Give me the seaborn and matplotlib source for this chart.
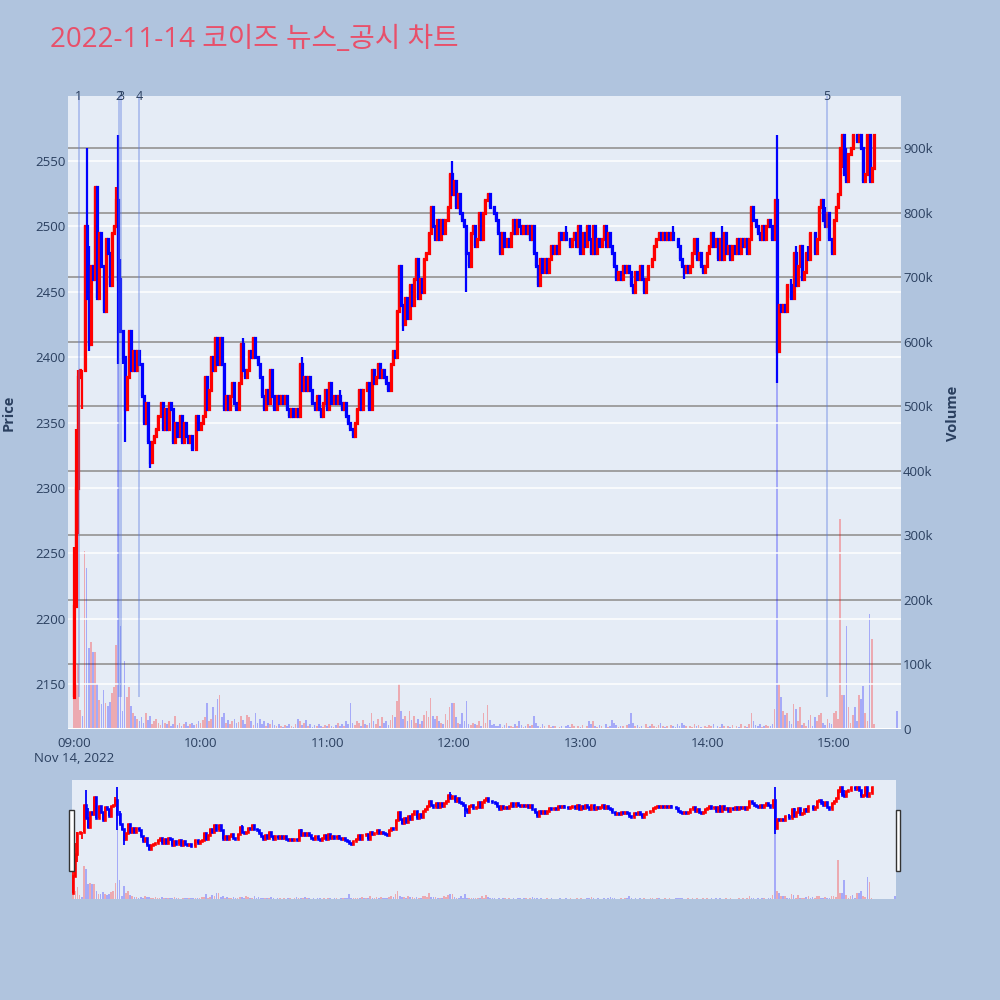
# 1-minute candles + volume for 2022-11-14, plotly-like look
import numpy as np
import pandas as pd
import seaborn as sns
import matplotlib.pyplot as plt
from matplotlib.patches import Rectangle
from matplotlib.ticker import FuncFormatter

# ---------------- data ----------------
title = '2022-11-14 코이즈 뉴스_공시 차트'
first_open = 2140

# close of each minute 09:00 .. 15:19, then the 15:30 closing auction
closes = [
    2210, 2300, 2385, 2390, 2390, 2500, 2445, 2410, 2470, 2460,
    2530, 2445, 2495, 2470, 2435, 2490, 2480, 2455, 2495, 2500,
    2520, 2460, 2420, 2400, 2360, 2385, 2420, 2390, 2405, 2390,
    2405, 2395, 2370, 2350, 2365, 2335, 2320, 2335, 2340, 2345,
    2355, 2365, 2345, 2360, 2345, 2365, 2360, 2335, 2350, 2340,
    2355, 2335, 2350, 2340, 2335, 2340, 2330, 2330, 2355, 2345,
    2350, 2355, 2385, 2360, 2375, 2400, 2390, 2415, 2395, 2415,
    2395, 2360, 2370, 2360, 2370, 2380, 2365, 2360, 2380, 2410,
    2390, 2385, 2390, 2405, 2400, 2415, 2400, 2395, 2385, 2370,
    2360, 2375, 2365, 2390, 2370, 2360, 2370, 2365, 2370, 2365,
    2370, 2360, 2355, 2360, 2355, 2360, 2355, 2395, 2375, 2385,
    2375, 2385, 2375, 2365, 2360, 2370, 2360, 2355, 2365, 2375,
    2360, 2380, 2365, 2370, 2365, 2370, 2365, 2360, 2365, 2355,
    2350, 2345, 2340, 2350, 2360, 2375, 2360, 2375, 2375, 2380,
    2360, 2390, 2380, 2385, 2395, 2385, 2390, 2385, 2380, 2375,
    2395, 2405, 2400, 2435, 2470, 2440, 2425, 2445, 2430, 2455,
    2440, 2460, 2475, 2445, 2460, 2450, 2475, 2480, 2495, 2515,
    2500, 2490, 2505, 2490, 2505, 2495, 2505, 2515, 2540, 2525,
    2535, 2515, 2525, 2510, 2505, 2500, 2480, 2470, 2495, 2500,
    2485, 2490, 2510, 2490, 2510, 2520, 2525, 2515, 2515, 2510,
    2505, 2495, 2480, 2495, 2485, 2490, 2485, 2495, 2505, 2495,
    2505, 2500, 2495, 2500, 2495, 2500, 2490, 2500, 2480, 2470,
    2455, 2475, 2465, 2475, 2465, 2475, 2485, 2480, 2485, 2480,
    2495, 2490, 2495, 2490, 2490, 2485, 2490, 2495, 2485, 2500,
    2480, 2495, 2485, 2500, 2490, 2480, 2500, 2480, 2490, 2485,
    2490, 2500, 2485, 2495, 2485, 2480, 2470, 2460, 2465, 2460,
    2470, 2465, 2470, 2465, 2455, 2450, 2465, 2460, 2470, 2460,
    2450, 2460, 2470, 2470, 2475, 2485, 2490, 2495, 2490, 2495,
    2490, 2495, 2490, 2495, 2490, 2490, 2485, 2475, 2470, 2465,
    2470, 2465, 2470, 2480, 2490, 2475, 2480, 2470, 2465, 2470,
    2480, 2485, 2495, 2485, 2490, 2475, 2490, 2475, 2495, 2480,
    2485, 2475, 2485, 2480, 2490, 2480, 2490, 2485, 2490, 2480,
    2490, 2515, 2505, 2500, 2495, 2490, 2500, 2490, 2500, 2505,
    2500, 2490, 2520, 2405, 2440, 2435, 2440, 2435, 2455, 2455,
    2445, 2480, 2455, 2470, 2485, 2460, 2465, 2480, 2475, 2495,
    2495, 2480, 2490, 2515, 2520, 2505, 2500, 2510, 2490, 2480,
    2505, 2515, 2525, 2560, 2570, 2540, 2535, 2555, 2560, 2570,
    2570, 2565, 2570, 2560, 2535, 2540, 2570, 2535, 2545, 2570,
    2570,
]

# wick ends that go past the candle body (minute index -> price)
wick_high = {0: 2255, 1: 2345, 2: 2390, 6: 2560, 7: 2485, 20: 2530,
             21: 2570, 22: 2475, 80: 2415, 86: 2415, 108: 2400,
             126: 2375, 155: 2470, 179: 2550, 233: 2500, 284: 2500,
             307: 2500, 333: 2570, 340: 2460, 342: 2485, 348: 2485,
             356: 2515, 366: 2560}
wick_low = {2: 2265, 4: 2360, 7: 2405, 8: 2430, 21: 2395, 23: 2395,
            24: 2335, 36: 2315, 156: 2420, 186: 2450, 289: 2460,
            333: 2380, 364: 2545}

# volume per minute, in thousands of shares
volume_k = [
    150, 70, 100, 30, 20, 275, 250, 125, 135, 120,
    120, 70, 45, 38, 60, 40, 35, 42, 55, 65,
    130, 575, 160, 28, 105, 50, 65, 35, 25, 20,
    15, 12, 18, 10, 25, 14, 20, 8, 12, 16,
    10, 6, 14, 9, 7, 12, 5, 8, 20, 6,
    9, 4, 7, 11, 5, 8, 10, 6, 7, 12,
    9, 14, 18, 40, 12, 15, 34, 22, 46, 52,
    18, 25, 10, 14, 8, 12, 16, 9, 11, 20,
    14, 8, 22, 18, 12, 6, 25, 10, 15, 8,
    12, 5, 9, 7, 14, 6, 4, 8, 5, 3,
    6, 4, 8, 5, 3, 7, 16, 12, 6, 9,
    14, 5, 7, 3, 6, 4, 8, 5, 3, 6,
    4, 8, 5, 3, 6, 9, 4, 7, 5, 12,
    8, 40, 10, 6, 12, 9, 5, 14, 8, 6,
    10, 25, 12, 8, 15, 5, 18, 9, 12, 6,
    14, 22, 18, 43, 70, 28, 15, 20, 12, 28,
    14, 20, 10, 16, 8, 12, 22, 28, 18, 48,
    20, 15, 20, 12, 10, 8, 23, 14, 34, 41,
    41, 18, 10, 8, 25, 12, 43, 8, 6, 10,
    8, 6, 12, 5, 25, 10, 37, 14, 6, 8,
    5, 4, 7, 3, 6, 9, 4, 5, 3, 8,
    4, 12, 6, 3, 5, 8, 4, 6, 20, 10,
    5, 3, 7, 4, 2, 6, 3, 5, 4, 2,
    3, 5, 2, 4, 6, 3, 8, 4, 2, 5,
    3, 6, 2, 4, 12, 8, 13, 5, 3, 6,
    4, 2, 7, 3, 5, 14, 9, 6, 3, 4,
    5, 2, 6, 8, 25, 10, 4, 6, 3, 5,
    2, 7, 3, 4, 8, 5, 3, 6, 9, 4,
    3, 5, 2, 6, 4, 3, 8, 5, 10, 6,
    4, 2, 5, 3, 7, 4, 6, 3, 2, 5,
    3, 6, 4, 8, 2, 5, 3, 7, 4, 2,
    5, 3, 6, 2, 4, 3, 7, 2, 5, 3,
    8, 25, 12, 6, 4, 7, 3, 5, 6, 4,
    5, 8, 31, 575, 70, 49, 28, 22, 25, 12,
    8, 39, 31, 12, 34, 6, 10, 5, 14, 22,
    5, 18, 12, 22, 25, 10, 6, 15, 10, 8,
    25, 28, 15, 325, 52, 52, 160, 34, 10, 22,
    34, 12, 52, 46, 67, 25, 13, 178, 140, 8,
    28,
]

# news / disclosure markers
news_times = ['09:02:20', '09:21:20', '09:22:20', '09:30:50', '14:56:55']
news_labels = ['1', '2', '3', '4', '5']

hour_labels = ['09:00', '10:00', '11:00', '12:00', '13:00', '14:00', '15:00']
price_ticks = [2150, 2200, 2250, 2300, 2350, 2400, 2450, 2500, 2550]
volume_ticks = [0, 100000, 200000, 300000, 400000, 500000, 600000, 700000, 800000, 900000]

# ---------------- build the frame ----------------
day = '2022-11-14'
t0 = pd.Timestamp(f'{day} 09:00')
times = list(pd.date_range(f'{day} 09:00', f'{day} 15:19', freq='min')) + [pd.Timestamp(f'{day} 15:30')]
assert len(times) == len(closes) == len(volume_k)

df = pd.DataFrame({'time': times, 'close': closes, 'volume': np.array(volume_k) * 1000})
df['minute'] = (df['time'] - t0).dt.total_seconds() / 60
df['open'] = df['close'].shift(1).fillna(first_open)
df['high'] = df[['open', 'close']].max(axis=1)
df['low'] = df[['open', 'close']].min(axis=1)
for i, v in wick_high.items():
    df.loc[i, 'high'] = max(df.loc[i, 'high'], v)
for i, v in wick_low.items():
    df.loc[i, 'low'] = min(df.loc[i, 'low'], v)

# candle colour: close vs open (flat candles keep the previous direction)
dirs, prev = [], 'up'
for o, c in zip(df['open'], df['close']):
    if c > o:
        prev = 'up'
    elif c < o:
        prev = 'down'
    dirs.append(prev)
df['dir'] = dirs
prev_close = df['close'].shift(1).fillna(first_open)
df['vdir'] = np.where(df['close'] > prev_close, 'up', 'down')

news_min = [pd.Timedelta(t).total_seconds() / 60 - 9 * 60 for t in news_times]
hour_pos = [(pd.Timestamp(f'{day} {h}') - t0).total_seconds() / 60 for h in hour_labels]

# ---------------- style ----------------
RED, BLUE = '#FF0000', '#0000FF'
COLORS = {'up': RED, 'down': BLUE}
TXT = '#2a3f5f'
PRICE_LIM = (2115.6, 2599.7)
VOL_LIM = (0, 980600)

sns.set_theme(style='white')
plt.rcParams['font.family'] = ['Open Sans', 'Noto Sans CJK KR', 'DejaVu Sans']


def draw_candles(ax, lw_wick, lw_body):
    cols = df['dir'].map(COLORS).tolist()
    ax.vlines(df['minute'], df['low'], df['high'], colors=cols, linewidth=lw_wick)
    body = ax.vlines(df['minute'], df[['open', 'close']].min(axis=1),
                     df[['open', 'close']].max(axis=1), colors=cols, linewidth=lw_body)
    body.set_capstyle('projecting')


def draw_volume(ax):
    sns.barplot(data=df, x='minute', y='volume', hue='vdir', palette=COLORS,
                native_scale=True, dodge=False, saturation=1, alpha=0.28,
                errorbar=None, legend=False, linewidth=0, ax=ax)
    ax.set_xlabel('')
    ax.set_ylabel('')


def strip(ax):
    for s in ax.spines.values():
        s.set_visible(False)


fig = plt.figure(figsize=(10, 10), dpi=100, facecolor='#B0C4DE')

# ---- main panel ----
ax_v = fig.add_axes([0.068, 0.271, 0.833, 0.633], facecolor='#E5ECF6')
ax_p = ax_v.twinx()
draw_volume(ax_v)
ax_v.set_ylim(*VOL_LIM)
ax_v.set_yticks(volume_ticks)
ax_v.yaxis.set_major_formatter(FuncFormatter(lambda v, _: '0' if v == 0 else f'{int(v / 1000)}k'))
ax_v.yaxis.tick_right()
ax_v.grid(axis='y', color='#9a9a9a', linewidth=1.3)
ax_v.grid(axis='x', visible=False)
ax_v.set_axisbelow(True)
ax_v.axhline(0, color='white', linewidth=2.2)

draw_candles(ax_p, 1.6, 2.3)
ax_p.set_ylim(*PRICE_LIM)
ax_p.set_yticks(price_ticks)
ax_p.yaxis.tick_left()
ax_p.grid(axis='y', color='white', linewidth=1.1)
ax_p.grid(axis='x', visible=False)
ax_p.set_axisbelow(True)

ax_p.vlines(news_min, 2140, PRICE_LIM[1], color='#5b7be0', alpha=0.38, linewidth=1.4)
for m, lbl in zip(news_min, news_labels):
    ax_p.text(m, 1.0, lbl, transform=ax_p.get_xaxis_transform(), ha='center', va='center',
              fontsize=9, color=TXT)

ax_v.set_xlim(-2.84, 391.9)
ax_v.set_xticks(hour_pos)
ax_v.set_xticklabels([hour_labels[0] + '\nNov 14, 2022'] + hour_labels[1:])
ax_v.tick_params(axis='x', length=0, pad=6, labelsize=9.5, labelcolor=TXT)
ax_v.tick_params(axis='y', length=0, pad=1.5, labelsize=9.5, labelcolor=TXT)
ax_p.tick_params(axis='y', length=0, pad=1.5, labelsize=9.5, labelcolor=TXT)
strip(ax_v)
strip(ax_p)

fig.text(0.009, 0.587, 'Price', rotation=90, ha='center', va='center',
         fontsize=10.5, fontweight='bold', color=TXT)
fig.text(0.953, 0.587, 'Volume', rotation=90, ha='center', va='center',
         fontsize=10.5, fontweight='bold', color=TXT)
fig.text(0.05, 0.96, title, ha='left', va='center', fontsize=20, color='#E8506A')

# ---- range slider ----
ax_sv = fig.add_axes([0.072, 0.101, 0.824, 0.119], facecolor='#E5ECF6')
ax_sp = ax_sv.twinx()
draw_volume(ax_sv)
ax_sv.set_ylim(*VOL_LIM)
draw_candles(ax_sp, 1.3, 1.9)
ax_sp.set_ylim(*PRICE_LIM)
for a in (ax_sv, ax_sp):
    a.set_xlim(-0.6, 390.6)
    a.set_xticks([])
    a.set_yticks([])
    a.grid(False)
    strip(a)

for x0 in (0.069, 0.8955):
    fig.add_artist(Rectangle((x0, 0.129), 0.0045, 0.061, transform=fig.transFigure,
                             facecolor='white', edgecolor='#333333', linewidth=1))

fig.savefig('out.png', dpi=100, facecolor=fig.get_facecolor())
